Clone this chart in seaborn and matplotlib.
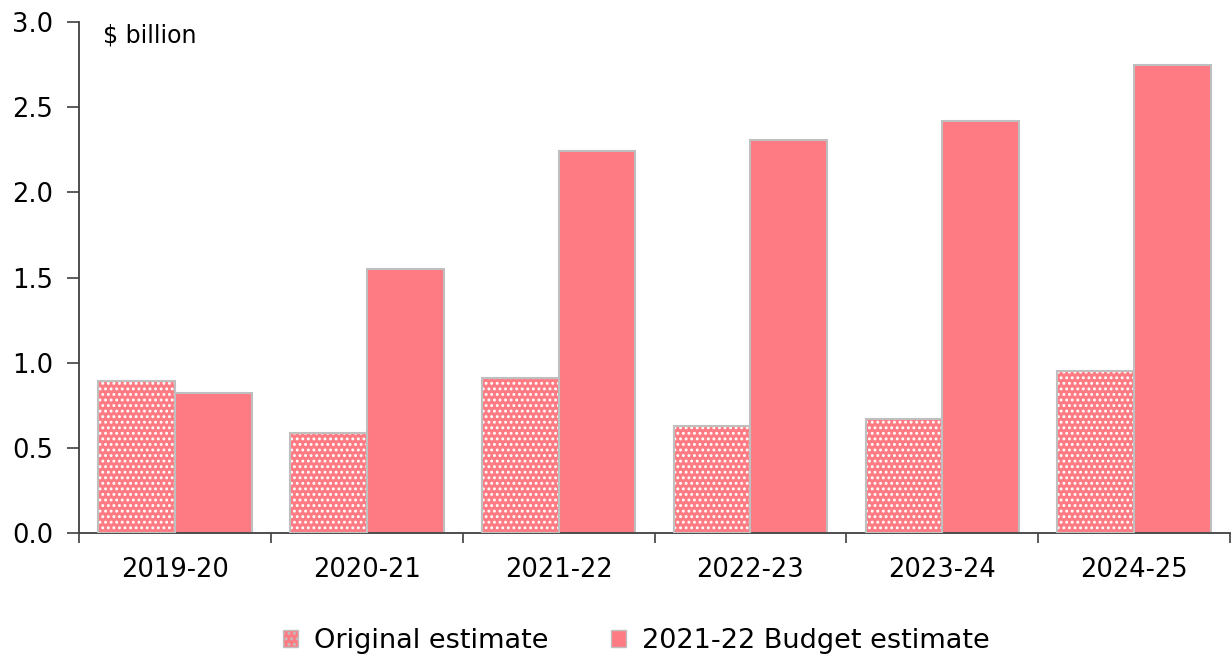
import matplotlib
matplotlib.use("Agg")
import matplotlib.pyplot as plt
import seaborn as sns
import pandas as pd
import numpy as np
from matplotlib.patches import Patch

years = ["2019-20", "2020-21", "2021-22", "2022-23", "2023-24", "2024-25"]
original = [0.89, 0.59, 0.91, 0.63, 0.67, 0.95]
budget = [0.82, 1.55, 2.24, 2.31, 2.42, 2.75]
series = ["Original estimate", "2021-22 Budget estimate"]
yticks = [0.0, 0.5, 1.0, 1.5, 2.0, 2.5, 3.0]

pink = "#FF7B83"
edge = "#BFBFBF"
axcol = "#404040"

df = pd.DataFrame({
    "year": years * 2,
    "value": original + budget,
    "series": [series[0]] * len(years) + [series[1]] * len(years),
})

sns.set_style("white")
plt.rcParams["font.family"] = ["DejaVu Sans"]
plt.rcParams["hatch.linewidth"] = 1.3
plt.rcParams["text.color"] = "black"
plt.rcParams["xtick.labelcolor"] = "black"
plt.rcParams["ytick.labelcolor"] = "black"

fig = plt.figure(figsize=(12.31, 6.61), dpi=100)
ax = fig.add_axes([0.0642, 0.1936, 0.9350, 0.7731])

sns.barplot(data=df, x="year", y="value", hue="series", order=years,
            hue_order=series, palette=[pink, pink], width=0.8,
            saturation=1, ax=ax, legend=False, errorbar=None)

n = len(years)
for i, p in enumerate(ax.patches[:2 * n]):
    p.set_linewidth(0)
    if i < n:
        p.set_hatch("...")
        p.set_edgecolor("white")
        ax.add_patch(plt.Rectangle(p.get_xy(), p.get_width(), p.get_height(),
                                   fill=False, edgecolor=edge, linewidth=1.5, zorder=3))
    else:
        p.set_edgecolor(edge)
        p.set_linewidth(1.5)

ax.set_xlim(-0.5, n - 0.5)
ax.set_ylim(0, 3.0)
ax.set_yticks(yticks)
ax.set_yticklabels([f"{v:.1f}" for v in yticks])
ax.set_xlabel("")
ax.set_ylabel("")

for s in ["top", "right"]:
    ax.spines[s].set_visible(False)
for s in ["left", "bottom"]:
    ax.spines[s].set_color(axcol)
    ax.spines[s].set_linewidth(1.3)

ax.tick_params(axis="y", which="major", direction="out", length=8.6, width=1.2,
               color=axcol, labelsize=18.5, pad=10, left=True, labelcolor="black")
ax.tick_params(axis="x", which="major", length=0, labelsize=18.5, pad=17,
               labelcolor="black")
ax.set_xticks(np.arange(-0.5, n, 1.0), minor=True)
ax.tick_params(axis="x", which="minor", direction="out", length=7.2, width=1.2,
               color=axcol, bottom=True)

ax.text(24 / (0.9350 * 1231), 1 - 13 / (0.7731 * 661), "$ billion",
        transform=ax.transAxes, fontsize=17, va="center", ha="left", color="black")

h1 = Patch(facecolor=pink, edgecolor=edge, hatch="...", linewidth=1.0)
h2 = Patch(facecolor=pink, edgecolor=edge, linewidth=1.0)
leg = fig.legend([h1, h2], series, loc="center", bbox_to_anchor=(0.517, 0.03),
                 ncol=2, frameon=False, fontsize=19.5, handlelength=0.55,
                 handleheight=0.55, columnspacing=2.3, handletextpad=0.6,
                 labelcolor="black")

fig.savefig("out.png", dpi=100)
